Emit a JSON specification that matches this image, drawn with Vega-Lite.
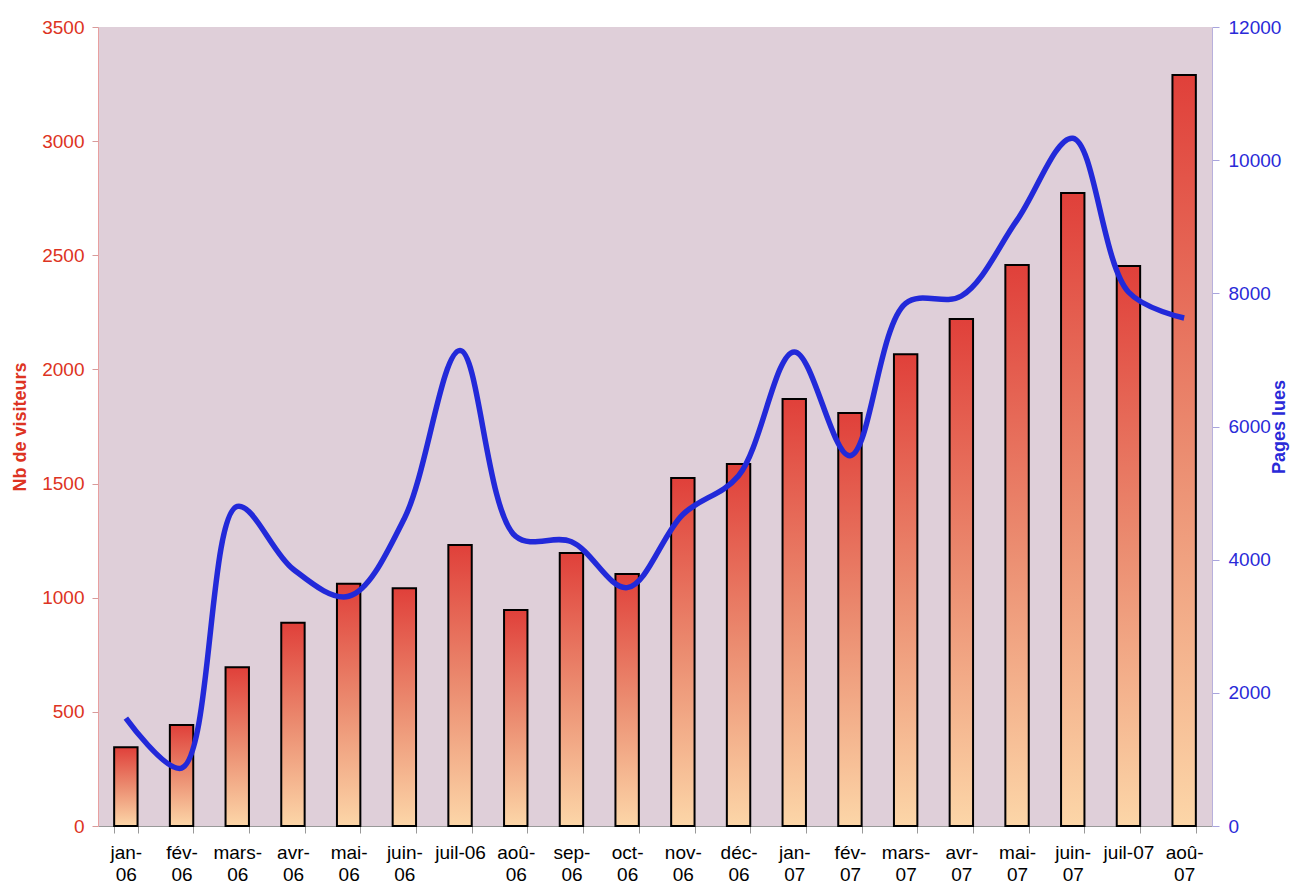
{
  "$schema": "https://vega.github.io/schema/vega-lite/v6.json",
  "width": 1114,
  "height": 799,
  "autosize": {"type": "none"},
  "padding": {"left": 98, "top": 27, "right": 98, "bottom": 58},
  "background": "white",
  "config": {
    "font": "Liberation Sans",
    "view": {"fill": "#dfcfd9", "stroke": null}
  },
  "data": {
    "values": [
      {"mois": "jan-06", "visiteurs": 345, "pages": 1620},
      {"mois": "fév-06", "visiteurs": 442, "pages": 870},
      {"mois": "mars-06", "visiteurs": 695, "pages": 4800},
      {"mois": "avr-06", "visiteurs": 890, "pages": 3860},
      {"mois": "mai-06", "visiteurs": 1061, "pages": 3450},
      {"mois": "juin-06", "visiteurs": 1041, "pages": 4620},
      {"mois": "juil-06", "visiteurs": 1231, "pages": 7140},
      {"mois": "aoû-06", "visiteurs": 946, "pages": 4350},
      {"mois": "sep-06", "visiteurs": 1196, "pages": 4270},
      {"mois": "oct-06", "visiteurs": 1104, "pages": 3580},
      {"mois": "nov-06", "visiteurs": 1524, "pages": 4680},
      {"mois": "déc-06", "visiteurs": 1586, "pages": 5260},
      {"mois": "jan-07", "visiteurs": 1870, "pages": 7120},
      {"mois": "fév-07", "visiteurs": 1809, "pages": 5560},
      {"mois": "mars-07", "visiteurs": 2067, "pages": 7850},
      {"mois": "avr-07", "visiteurs": 2221, "pages": 7960},
      {"mois": "mai-07", "visiteurs": 2457, "pages": 9100},
      {"mois": "juin-07", "visiteurs": 2773, "pages": 10330},
      {"mois": "juil-07", "visiteurs": 2453, "pages": 8020},
      {"mois": "aoû-07", "visiteurs": 3290, "pages": 7630}
    ]
  },
  "layer": [
    {
      "mark": {
        "type": "bar",
        "stroke": "#000000",
        "strokeWidth": 2,
        "fill": {
          "gradient": "linear",
          "x1": 0, "y1": 0, "x2": 0, "y2": 1,
          "stops": [
            {"offset": 0, "color": "#e0403a"},
            {"offset": 0.5, "color": "#eb8c70"},
            {"offset": 1, "color": "#fcd6a8"}
          ]
        }
      },
      "encoding": {
        "x": {
          "field": "mois",
          "type": "ordinal",
          "sort": null,
          "scale": {"paddingInner": 0.58, "paddingOuter": 0.29},
          "axis": {
            "title": null,
            "labelAngle": 0,
            "labelFontSize": 19,
            "labelColor": "#000000",
            "labelPadding": 10,
            "labelBaseline": "top",
            "labelLineHeight": 22,
            "tickBand": "extent",
            "tickSize": 7,
            "tickColor": "#999999",
            "domainColor": "#999999",
            "labelExpr": "indexof(datum.label, 'juil') == 0 ? datum.label : split(replace(datum.label, '-', '-|'), '|')"
          }
        },
        "y": {
          "field": "visiteurs",
          "type": "quantitative",
          "scale": {"domain": [0, 3500]},
          "axis": {
            "title": "Nb de visiteurs",
            "titleColor": "#dd3322",
            "titleFontSize": 18,
            "titleFontWeight": "bold",
            "titlePadding": 12,
            "format": "d",
            "values": [0, 500, 1000, 1500, 2000, 2500, 3000, 3500],
            "labelColor": "#dd3322",
            "labelFontSize": 19,
            "labelPadding": 8,
            "tickSize": 6,
            "tickColor": "#d89a9a",
            "domainColor": "#e8a0a0",
            "grid": false
          }
        }
      }
    },
    {
      "mark": {
        "type": "line",
        "interpolate": "catmull-rom",
        "color": "#2229d9",
        "strokeWidth": 5.5
      },
      "encoding": {
        "x": {
          "field": "mois",
          "type": "ordinal",
          "sort": null
        },
        "y": {
          "field": "pages",
          "type": "quantitative",
          "scale": {"domain": [0, 12000]},
          "axis": {
            "orient": "right",
            "title": "Pages lues",
            "titleAngle": 270,
            "titleColor": "#2a2ad8",
            "titleFontSize": 18,
            "titleFontWeight": "bold",
            "titlePadding": 8,
            "format": "d",
            "values": [0, 2000, 4000, 6000, 8000, 10000, 12000],
            "labelColor": "#2a2ad8",
            "labelFontSize": 19,
            "labelPadding": 9,
            "tickSize": 7,
            "tickColor": "#a8a4dc",
            "domainColor": "#b8b0dc",
            "grid": false
          }
        }
      }
    }
  ],
  "resolve": {"scale": {"y": "independent"}}
}
